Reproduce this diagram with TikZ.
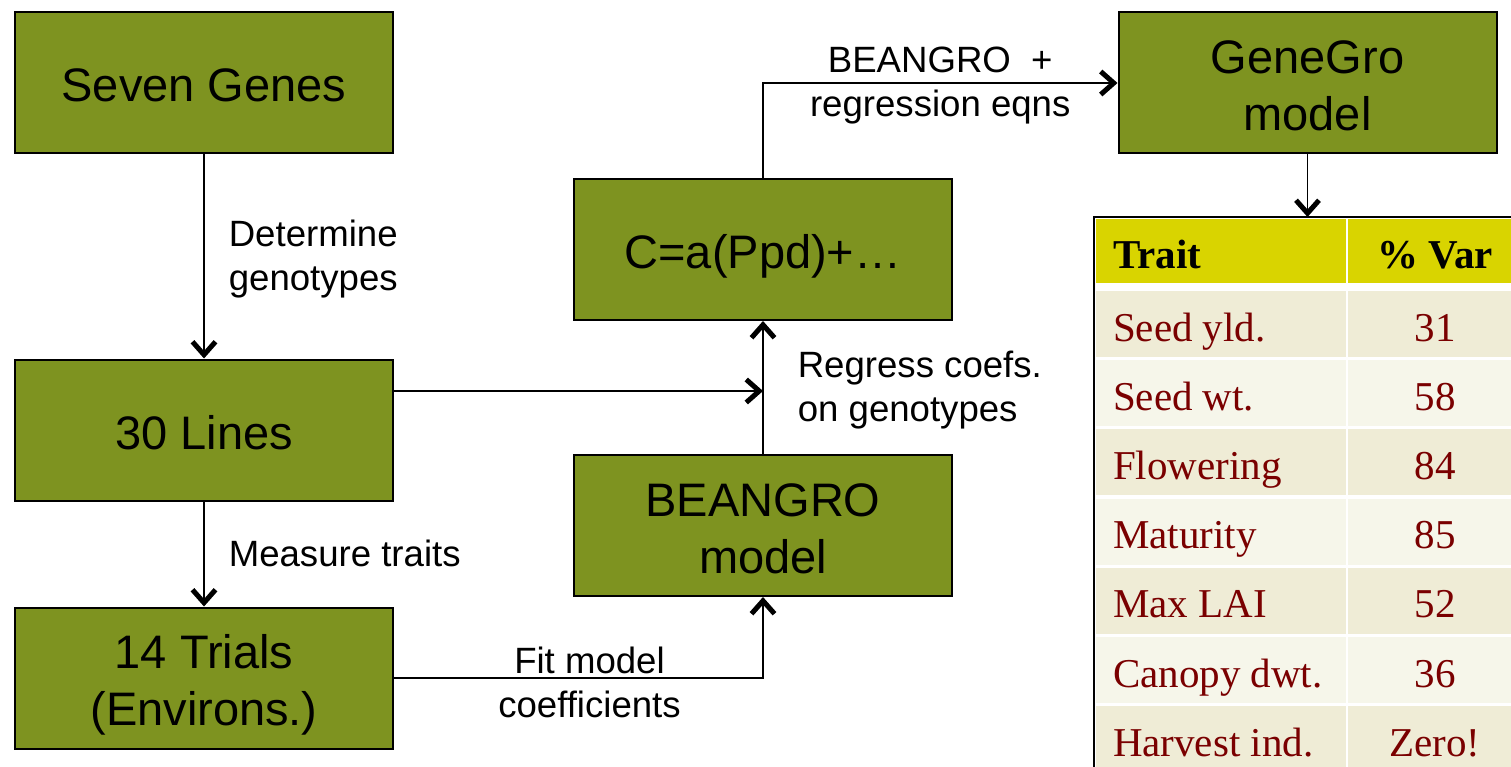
\documentclass[tikz,border=0pt]{standalone}
\usepackage{fontspec}
\setmainfont{Liberation Sans}
\newfontfamily\tabfont{Liberation Serif}
\usetikzlibrary{shapes,arrows.meta,positioning,calc}

\definecolor{boxgreen}{RGB}{126,147,32}
\definecolor{hdyellow}{RGB}{217,212,0}
\definecolor{rowdark}{RGB}{239,236,214}
\definecolor{rowlight}{RGB}{246,246,234}
\definecolor{traitred}{RGB}{122,0,0}

\begin{document}
\begin{tikzpicture}[x=1pt, y=-1pt,
  box/.style={draw, line width=2pt, fill=boxgreen, minimum width=378pt, minimum height=141pt, align=center,
    text height=44pt, text depth=6pt, font=\fontsize{47}{57}\selectfont},
  twoline/.style={text height=101pt},
  lab/.style={inner sep=0pt, align=left, text height=30pt, text depth=6pt, font=\fontsize{36.6}{44}\selectfont},
  twolab/.style={text height=74pt},
  link/.style={line width=1.6pt, -{Straight Barb[length=13pt,width=23pt,line width=5pt]}},
  cell/.style={minimum height=66pt, inner ysep=0pt, text height=40pt, text depth=6pt, font=\tabfont\fontsize{41}{50}\selectfont, text=traitred},
  traitcell/.style={cell, minimum width=250pt, inner xsep=17pt},
  pctcell/.style={cell, minimum width=174pt, inner xsep=0pt},
  headcell/.style={fill=hdyellow, minimum height=64pt, text=black, font=\tabfont\bfseries\fontsize{41}{50}\selectfont}]
  \useasboundingbox (0,0) rectangle (1511,767);

  \node [box] (genes) at (204,83) {Seven Genes};
  \node [box, below=204pt of genes] (lines) {30 Lines};
  \node [box, twoline, below=105pt of lines] (trials) {14 Trials\\(Environs.)};
  \node [box] (ceq) at (763,249.5) {C=a(Ppd)+…};
  \node [box, twoline, below=133pt of ceq] (beangro) {BEANGRO\\model};
  \node [box, twoline] (genegro) at (1307.5,83) {GeneGro\\model};

  % table of traits
  \coordinate (tabnw) at (1094,217);
  \node [traitcell, headcell] (hdtrait) at (1221,251) {\makebox[216pt][l]{Trait}};
  \node [pctcell, headcell] (hdpct) at (1435,251) {\% Var};
  \foreach \trait/\pct [count=\i] in {Seed yld./31, Seed wt./58, Flowering/84, Maturity/85, Max LAI/52, Canopy dwt./36, Harvest ind./Zero!} {
    \pgfmathsetmacro{\rowy}{291+(\i-1)*69.2+33}
    \ifodd\i \def\rowcol{rowdark}\else \def\rowcol{rowlight}\fi
    \node [traitcell, fill=\rowcol] (trait\i) at (1221,\rowy) {\makebox[216pt][l]{\trait}};
    \node [pctcell, fill=\rowcol] (pct\i) at (1435,\rowy) {\pct};
  }
  \draw [line width=2pt] (tabnw |- 0,767) -- (tabnw) -- (1511,217);

  % connectors
  \coordinate (meet) at (763,391);
  \draw [link] (genes) -- node [lab, twolab, right=24pt] {Determine\\genotypes} (lines);
  \draw [link] (lines) -- node [lab, right=24pt] {Measure traits} (trials);
  \draw [link] (lines.east |- meet) -- (meet);
  \draw [link] (beangro) -- node [lab, twolab, right=34pt] {Regress coefs.\\on genotypes} (ceq);
  \draw [link] (trials) -| node [lab, twolab, pos=0.25, xshift=11pt, yshift=-5pt, align=center] {Fit model\\coefficients} (beangro);
  \draw [link] (ceq) |- node [lab, twolab, pos=0.75, align=center] {BEANGRO\ \ +\\regression eqns} (genegro);
  \draw [link] (genegro) -- (genegro.south |- tabnw);
\end{tikzpicture}
\end{document}
